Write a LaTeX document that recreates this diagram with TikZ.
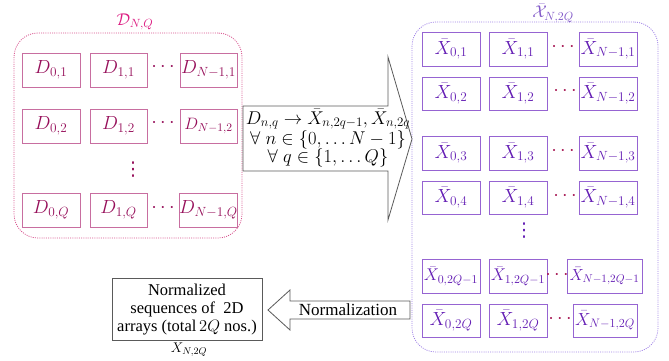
\RequirePackage{fix-cm}
\documentclass[tikz,border=0pt]{standalone}
\usepackage{fontspec}
\newfontfamily\tnr{Liberation Serif}
\newfontfamily\dejavu{DejaVu Sans}
\usetikzlibrary{positioning}
\definecolor{lboxc}{RGB}{200,110,160}
\definecolor{ltxt}{RGB}{150,15,90}
\definecolor{lcont}{RGB}{215,80,140}
\definecolor{llab}{RGB}{220,30,130}
\definecolor{rboxc}{RGB}{150,100,210}
\definecolor{rtxt}{RGB}{100,30,180}
\definecolor{rcont}{RGB}{160,130,230}
\definecolor{rlab}{RGB}{130,90,200}
\definecolor{rdots}{RGB}{165,20,80}
\definecolor{arrc}{RGB}{90,90,90}
\begin{document}
\begin{tikzpicture}[x=1pt,y=-1pt,
  lbox/.style={draw=lboxc, line width=0.9pt, text=ltxt, minimum width=57pt, minimum height=34pt, inner sep=0pt, font=\fontsize{19}{22}\selectfont},
  rbox/.style={draw=rboxc, line width=0.9pt, text=rtxt, minimum width=58pt, minimum height=34pt, inner sep=0pt, font=\fontsize{19}{22}\selectfont},
  ldots/.style={text=ltxt, inner sep=0pt, font=\fontsize{20}{22}\selectfont},
  rdotsn/.style={text=rdots, inner sep=0pt, font=\fontsize{20}{22}\selectfont},
  vdotsn/.style={text=#1, inner sep=0pt, font=\dejavu\fontsize{19}{22}\selectfont},
  contbox/.style={draw=#1, line width=0.8pt, dash pattern=on 1pt off 1.2pt, rounded corners=24pt, inner sep=0pt},
  bigarrow/.style={draw=arrc, line width=0.8pt, fill=white}
]
\useasboundingbox (0,0) rectangle (669,360);

% containers
\node[contbox=lcont, minimum width=228pt, minimum height=205pt] (lc) at (128,135.5) {};
\node[text=llab, inner sep=0pt, font=\fontsize{17}{19}\selectfont] (llabel) at (135,22) {$\mathcal{D}_{N,Q}$};
\node[contbox=rcont, minimum width=246pt, minimum height=330pt] (rc) at (535,187) {};
\node[text=rlab, inner sep=0pt, font=\fontsize{17}{19}\selectfont] (rlabel) at (553,13) {$\bar{\mathcal{X}}_{N,2Q}$};

% left boxes
\node[lbox, minimum width=58pt] (d01) at (51,70) {$D_{0,1}$};
\node[lbox] (d11) at (118.5,70) {$D_{1,1}$};
\node[lbox] (dn1) at (208.5,70) {$D_{N-1,1}$};
\node[lbox, minimum width=58pt] (d02) at (51,126) {$D_{0,2}$};
\node[lbox] (d12) at (118.5,126) {$D_{1,2}$};
\node[lbox, font=\fontsize{16.5}{18}\selectfont] (dn2) at (208.5,126) {$D_{N-1,2}$};
\node[lbox, minimum width=58pt] (d0q) at (51,210) {$D_{0,Q}$};
\node[lbox] (d1q) at (118.5,210) {$D_{1,Q}$};
\node[lbox] (dnq) at (208.5,210) {$D_{N-1,Q}$};
\node[ldots] (ld1) at (163,67) {$\cdots$};
\node[ldots] (ld2) at (163,123) {$\cdots$};
\node[ldots] (ld3) at (163,208) {$\cdots$};
\node[vdotsn=ltxt] (lvd) at (133,170) {⋮};

% right boxes
\node[rbox] (x01) at (451,49) {$\bar{X}_{0,1}$};
\node[rbox] (x11) at (518,49) {$\bar{X}_{1,1}$};
\node[rbox] (xn1) at (608,49) {$\bar{X}_{N-1,1}$};
\node[rbox, minimum height=33pt] (x02) at (451,93.5) {$\bar{X}_{0,2}$};
\node[rbox, minimum height=33pt] (x12) at (518,93.5) {$\bar{X}_{1,2}$};
\node[rbox, minimum height=33pt] (xn2) at (608,93.5) {$\bar{X}_{N-1,2}$};
\node[rbox] (x03) at (451,153) {$\bar{X}_{0,3}$};
\node[rbox] (x13) at (518,153) {$\bar{X}_{1,3}$};
\node[rbox] (xn3) at (608,153) {$\bar{X}_{N-1,3}$};
\node[rbox, minimum height=33pt] (x04) at (451,197.5) {$\bar{X}_{0,4}$};
\node[rbox, minimum height=33pt] (x14) at (518,197.5) {$\bar{X}_{1,4}$};
\node[rbox, minimum height=33pt] (xn4) at (608,197.5) {$\bar{X}_{N-1,4}$};
\node[rbox, font=\fontsize{17}{20}\selectfont] (x05) at (451,276) {$\bar{X}_{0,2Q-1}$};
\node[rbox, font=\fontsize{17}{20}\selectfont] (x15) at (518,276) {$\bar{X}_{1,2Q-1}$};
\node[rbox, minimum width=75pt, font=\fontsize{16}{20}\selectfont] (xn5) at (604.5,276) {$\bar{X}_{N-1,2Q-1}$};
\node[rbox, minimum height=33pt] (x06) at (451,320.5) {$\bar{X}_{0,2Q}$};
\node[rbox, minimum height=33pt] (x16) at (518,320.5) {$\bar{X}_{1,2Q}$};
\node[rbox, minimum height=33pt, minimum width=64pt, font=\fontsize{17.5}{20}\selectfont] (xn6) at (605,320.5) {$\bar{X}_{N-1,2Q}$};
\node[rdotsn] (rd1) at (563,47) {$\cdots$};
\node[rdotsn] (rd2) at (565,91) {$\cdots$};
\node[rdotsn] (rd3) at (563,151) {$\cdots$};
\node[rdotsn] (rd4) at (565,196) {$\cdots$};
\node[rdotsn] (rd5) at (557,275) {$\cdots$};
\node[rdotsn] (rd6) at (560,319) {$\cdots$};
\node[vdotsn=rtxt] (rvd) at (524,231) {⋮};

% big arrow
\draw[bigarrow] (243,106) -- (388,106) -- (388,57) -- (412,139) -- (388,220) -- (388,171) -- (243,171) -- cycle;
\node[align=center, inner sep=0pt, font=\fontsize{18.5}{20}\selectfont] (maptext) at (328,138)
  {$D_{n,q}\rightarrow\bar{X}_{n,2q-1},\bar{X}_{n,2q}$\\[0pt]
   $\forall\;n\in\{0,\ldots N-1\}$\\[-2pt]
   $\forall\;q\in\{1,\ldots Q\}$};

% normalization arrow
\draw[bigarrow] (410,301) -- (290,301) -- (290,290) -- (268,310) -- (290,330) -- (290,319) -- (410,319) -- cycle;
\node[inner sep=0pt, font=\tnr\fontsize{17}{20}\selectfont] (normtext) at (348,310) {Normalization};

% normalized box
\node[draw=arrc, line width=0.8pt, minimum width=150pt, minimum height=62pt, inner sep=0pt] (nbox) at (187,309) {};
\node[align=center, inner sep=0pt, font=\tnr\fontsize{16.5}{18}\selectfont] (ntext) at (187,310)
  {Normalized\\ sequences of \ 2D\\ arrays (total\,$2Q$ nos.)};
\node[inner sep=0pt, font=\fontsize{14}{16}\selectfont] (xlab) at (189,350) {$X_{N,2Q}$};
\end{tikzpicture}
\end{document}
